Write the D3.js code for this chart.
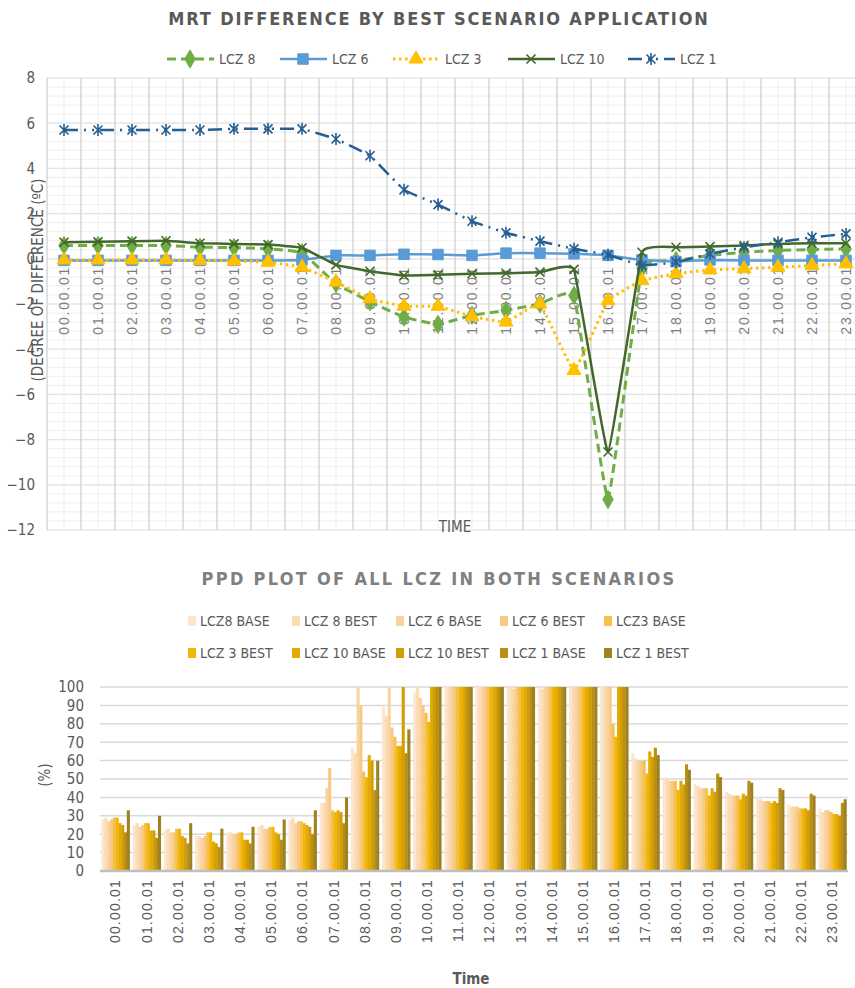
<!DOCTYPE html>
<html>
<head>
<meta charset="utf-8">
<script src="https://cdn.jsdelivr.net/npm/d3@7"></script>
<style>
  body { margin: 0; background: #fff; }
</style>
</head>
<body>
<div id="chart"></div>
<script>
var hours = ["00.00.01", "01.00.01", "02.00.01", "03.00.01", "04.00.01", "05.00.01", "06.00.01", "07.00.01",
  "08.00.01", "09.00.01", "10.00.01", "11.00.01", "12.00.01", "13.00.01", "14.00.01", "15.00.01",
  "16.00.01", "17.00.01", "18.00.01", "19.00.01", "20.00.01", "21.00.01", "22.00.01", "23.00.01"];

// MRT difference (best - base), degC
var mrtNames = ["LCZ 8", "LCZ 6", "LCZ 3", "LCZ 10", "LCZ 1"];
var lcz8 = [0.59, 0.59, 0.59, 0.59, 0.51, 0.5, 0.44, 0.27, -1.1, -1.9, -2.58, -2.9, -2.5, -2.28, -1.99, -1.62, -10.65, -0.42, -0.08, 0.15, 0.29, 0.37, 0.41, 0.44];
var lcz6 = [-0.07, -0.07, -0.07, -0.07, -0.07, -0.07, -0.07, -0.05, 0.15, 0.15, 0.2, 0.19, 0.15, 0.25, 0.25, 0.22, 0.15, -0.05, -0.12, -0.05, -0.07, -0.07, -0.07, -0.07];
var lcz3 = [-0.05, -0.05, -0.05, -0.05, -0.07, -0.1, -0.15, -0.37, -1.03, -1.77, -2.1, -2.1, -2.55, -2.8, -2.0, -4.94, -1.85, -0.96, -0.66, -0.49, -0.44, -0.37, -0.3, -0.22];
var lcz10 = [0.73, 0.75, 0.78, 0.8, 0.69, 0.66, 0.63, 0.49, -0.27, -0.55, -0.74, -0.71, -0.66, -0.64, -0.59, -0.47, -8.55, 0.29, 0.51, 0.54, 0.59, 0.66, 0.69, 0.69];
var lcz1 = [5.7, 5.7, 5.7, 5.7, 5.7, 5.75, 5.75, 5.75, 5.3, 4.56, 3.05, 2.4, 1.66, 1.15, 0.78, 0.44, 0.18, -0.3, -0.15, 0.22, 0.51, 0.73, 0.95, 1.1];
var mrtTicks = [-12, -10, -8, -6, -4, -2, 0, 2, 4, 6, 8];

// PPD (%), bars above 100 are cut by the axis
var ppdNames = ["LCZ8 BASE", "LCZ 8 BEST", "LCZ 6 BASE", "LCZ 6 BEST", "LCZ3 BASE",
  "LCZ 3 BEST", "LCZ 10 BASE", "LCZ 10 BEST", "LCZ 1 BASE", "LCZ 1 BEST"];
var lcz8Base = [28, 25, 22, 19, 21, 24, 28, 37, 67, 89, 97, 100, 100, 100, 100, 100, 100, 64, 51, 47, 43, 40, 36, 34];
var lcz8Best = [29, 26, 23, 19, 21, 25, 29, 37, 64, 84, 100, 100, 100, 100, 99, 100, 100, 61, 50, 46, 42, 39, 35, 32];
var lcz6Base = [27, 24, 21, 18, 20, 23, 26, 45, 100, 100, 94, 100, 100, 99, 100, 100, 100, 60, 49, 45, 41, 38, 35, 33];
var lcz6Best = [28, 25, 21, 19, 20, 23, 27, 56, 90, 78, 90, 100, 100, 100, 100, 100, 100, 60, 49, 45, 41, 38, 35, 33];
var lcz3Base = [29, 26, 23, 21, 21, 24, 27, 33, 54, 73, 86, 100, 100, 100, 100, 100, 80, 60, 49, 45, 41, 38, 34, 32];
var lcz3Best = [29, 26, 23, 21, 21, 24, 26, 32, 51, 68, 81, 100, 100, 100, 100, 100, 73, 53, 44, 41, 39, 37, 34, 31];
var lcz10Base = [26, 22, 19, 16, 17, 21, 25, 33, 63, 68, 100, 100, 100, 100, 100, 100, 100, 65, 49, 45, 42, 38, 34, 31];
var lcz10Best = [25, 22, 18, 15, 17, 20, 24, 32, 60, 100, 100, 100, 100, 100, 100, 100, 100, 62, 47, 43, 41, 37, 33, 30];
var lcz1Base = [21, 18, 15, 13, 15, 17, 20, 26, 44, 64, 100, 100, 100, 100, 100, 100, 100, 67, 58, 53, 49, 45, 42, 37];
var lcz1Best = [33, 30, 26, 23, 24, 28, 33, 40, 60, 77, 100, 100, 100, 100, 100, 100, 100, 63, 55, 51, 48, 44, 41, 39];
var ppdTicks = [0, 10, 20, 30, 40, 50, 60, 70, 80, 90, 100];

var narrow = "'DejaVu Sans Condensed', 'Liberation Sans Narrow', sans-serif";
var plain = "'Liberation Sans', Arial, sans-serif";
var textGray = "#595959";

var svg = d3.select("#chart").append("svg")
  .attr("width", 855)
  .attr("height", 988);

// ---------------- top chart ----------------
var mrtSeries = [
  { name: mrtNames[0], values: lcz8, color: "#70ad47", width: 3, dash: "9,5", marker: "diamond" },
  { name: mrtNames[1], values: lcz6, color: "#5b9bd5", width: 2.5, dash: null, marker: "square" },
  { name: mrtNames[2], values: lcz3, color: "#ffc000", width: 3, dash: "2.5,3.5", marker: "triangle" },
  { name: mrtNames[3], values: lcz10, color: "#43682b", width: 2.5, dash: null, marker: "x" },
  { name: mrtNames[4], values: lcz1, color: "#255e91", width: 2.5, dash: "14,6,2,6,2,6", marker: "star" }
];

var x = d3.scaleBand().domain(hours).range([47, 863]);
var y = d3.scaleLinear().domain([-12, 8]).range([530, 78]);
var bw = x.bandwidth();

var grid = svg.append("g");
d3.range(-12, 8.001, 0.4).forEach(function (v) {
  grid.append("line")
    .attr("x1", 47).attr("x2", 863)
    .attr("y1", y(v)).attr("y2", y(v))
    .attr("stroke", "#efefef").attr("stroke-width", 1);
});
mrtTicks.forEach(function (v) {
  grid.append("line")
    .attr("x1", 47).attr("x2", 863)
    .attr("y1", y(v)).attr("y2", y(v))
    .attr("stroke", "#e3e3e3").attr("stroke-width", 1.2);
});
hours.forEach(function (h) {
  grid.append("line")
    .attr("x1", x(h) + bw / 2).attr("x2", x(h) + bw / 2)
    .attr("y1", y(8)).attr("y2", y(-12))
    .attr("stroke", "#efefef").attr("stroke-width", 1);
  grid.append("line")
    .attr("x1", x(h)).attr("x2", x(h))
    .attr("y1", y(8)).attr("y2", y(-12))
    .attr("stroke", "#d6d6d6").attr("stroke-width", 1.5);
});

var yAxis = svg.append("g")
  .attr("transform", "translate(47,0)")
  .call(d3.axisLeft(y).tickValues(mrtTicks).tickSize(0).tickPadding(12));
yAxis.select(".domain").remove();
yAxis.selectAll("text")
  .attr("font-family", narrow).attr("font-size", "15px").attr("fill", textGray);

var xAxis = svg.append("g")
  .attr("transform", "translate(0," + y(0) + ")")
  .call(d3.axisBottom(x).tickSize(0));
xAxis.select(".domain").remove();
xAxis.selectAll("text")
  .attr("transform", "rotate(-90)")
  .attr("x", -7).attr("y", 0).attr("dy", "0.35em")
  .attr("text-anchor", "end")
  .attr("font-family", plain).attr("font-size", "14px")
  .attr("letter-spacing", "1.8px")
  .attr("fill", "#7f7f7f");

function markerPath(type) {
  if (type == "diamond") return d3.symbol(d3.symbolDiamond, 95)();
  if (type == "square") return d3.symbol(d3.symbolSquare, 110)();
  if (type == "triangle") return d3.symbol(d3.symbolTriangle, 85)();
  if (type == "x") return "M-4.5,-4.5L4.5,4.5M-4.5,4.5L4.5,-4.5";
  return "M-4.5,-4.5L4.5,4.5M-4.5,4.5L4.5,-4.5M0,-6L0,6";
}

function drawMarker(g, s, cx, cy) {
  var open = s.marker == "x" || s.marker == "star";
  g.append("path")
    .attr("d", markerPath(s.marker))
    .attr("transform", "translate(" + cx + "," + cy + ")")
    .attr("fill", open ? "none" : s.color)
    .attr("stroke", s.color)
    .attr("stroke-width", open ? 1.6 : 1);
}

// stiff cardinal spline: smooth bends, but keeps the sharp drop at 16.00
var line = d3.line()
  .x(function (d, i) { return x(hours[i]) + bw / 2; })
  .y(function (d) { return y(d); })
  .curve(d3.curveCardinal.tension(0.75));

var lines = svg.append("g");
mrtSeries.forEach(function (s) {
  var g = lines.append("g");
  g.append("path")
    .attr("d", line(s.values))
    .attr("fill", "none")
    .attr("stroke", s.color)
    .attr("stroke-width", s.width)
    .attr("stroke-dasharray", s.dash);
  s.values.forEach(function (v, i) {
    drawMarker(g, s, x(hours[i]) + bw / 2, y(v));
  });
});

svg.append("text")
  .attr("transform", "translate(43,280) rotate(-90)")
  .attr("text-anchor", "middle")
  .attr("font-family", narrow).attr("font-size", "15px").attr("fill", textGray)
  .text("(DEGREE OF DIFFERENCE (ºC)");

svg.append("text")
  .attr("x", 455).attr("y", 532)
  .attr("text-anchor", "middle")
  .attr("font-family", narrow).attr("font-size", "15px").attr("fill", textGray)
  .text("TIME");

svg.append("text")
  .attr("x", 439).attr("y", 25)
  .attr("text-anchor", "middle")
  .attr("font-family", narrow).attr("font-size", "18px").attr("font-weight", "bold")
  .attr("letter-spacing", "1.85px").attr("fill", textGray)
  .text("MRT DIFFERENCE BY BEST SCENARIO APPLICATION");

// legend of the top chart
var legStarts = [167, 280, 393, 508, 628];
mrtSeries.forEach(function (s, k) {
  var legX = legStarts[k];
  var g = svg.append("g");
  g.append("line")
    .attr("x1", legX).attr("x2", legX + 47)
    .attr("y1", 59).attr("y2", 59)
    .attr("stroke", s.color).attr("stroke-width", s.width)
    .attr("stroke-dasharray", s.dash);
  drawMarker(g, s, legX + 23, 59);
  g.append("text")
    .attr("x", legX + 52).attr("y", 64)
    .attr("font-family", narrow).attr("font-size", "14px").attr("fill", textGray)
    .text(s.name);
});

// ---------------- bottom chart ----------------
var ppdValues = [lcz8Base, lcz8Best, lcz6Base, lcz6Best, lcz3Base, lcz3Best, lcz10Base, lcz10Best, lcz1Base, lcz1Best];
var ppdColors = ["#fce6d0", "#fcdcb4", "#f9d3a0", "#f8c985", "#f7bf4c", "#f1b60a", "#e4aa02", "#d29e04", "#b98f14", "#9e8222"];

var xb = d3.scaleBand().domain(hours).range([100, 848]).paddingInner(0.1).paddingOuter(0.05);
var xi = d3.scaleBand().domain(d3.range(ppdNames.length)).range([0, xb.bandwidth()]);
var yb = d3.scaleLinear().domain([0, 100]).range([871, 687]);

var gridB = svg.append("g");
ppdTicks.slice(1).forEach(function (v) {
  gridB.append("line")
    .attr("x1", 100).attr("x2", 848)
    .attr("y1", yb(v)).attr("y2", yb(v))
    .attr("stroke", "#d9d9d9").attr("stroke-width", 1.5);
});

var bars = svg.append("g");
ppdValues.forEach(function (vals, k) {
  bars.selectAll(null)
    .data(vals)
    .enter().append("rect")
    .attr("x", function (d, i) { return xb(hours[i]) + xi(k); })
    .attr("y", function (d) { return yb(Math.min(d, 100)); })
    .attr("width", xi.bandwidth() + 0.3)
    .attr("height", function (d) { return yb(0) - yb(Math.min(d, 100)); })
    .attr("fill", ppdColors[k]);
});

svg.append("line")
  .attr("x1", 100).attr("x2", 848)
  .attr("y1", yb(0)).attr("y2", yb(0))
  .attr("stroke", "#bfbfbf").attr("stroke-width", 2.5);

var yAxisB = svg.append("g")
  .attr("transform", "translate(100,0)")
  .call(d3.axisLeft(yb).tickValues(ppdTicks).tickSize(0).tickPadding(16));
yAxisB.select(".domain").remove();
yAxisB.selectAll("text")
  .attr("font-family", narrow).attr("font-size", "15px").attr("fill", textGray);

var xAxisB = svg.append("g")
  .attr("transform", "translate(0," + yb(0) + ")")
  .call(d3.axisBottom(xb).tickSize(0));
xAxisB.select(".domain").remove();
xAxisB.selectAll("text")
  .attr("transform", "rotate(-90)")
  .attr("x", -8).attr("y", 0).attr("dy", "0.35em")
  .attr("text-anchor", "end")
  .attr("font-family", plain).attr("font-size", "14px")
  .attr("letter-spacing", "1.2px")
  .attr("fill", textGray);

svg.append("text")
  .attr("transform", "translate(50,775) rotate(-90)")
  .attr("text-anchor", "middle")
  .attr("font-family", narrow).attr("font-size", "15px").attr("fill", textGray)
  .text("(%)");

svg.append("text")
  .attr("x", 471).attr("y", 984)
  .attr("text-anchor", "middle")
  .attr("font-family", narrow).attr("font-size", "15px").attr("font-weight", "bold")
  .attr("fill", textGray)
  .text("Time");

svg.append("text")
  .attr("x", 439).attr("y", 585)
  .attr("text-anchor", "middle")
  .attr("font-family", narrow).attr("font-size", "18px").attr("font-weight", "bold")
  .attr("letter-spacing", "2.3px").attr("fill", "#808080")
  .text("PPD PLOT OF ALL LCZ IN BOTH SCENARIOS");

// legend of the bottom chart, two rows of five
var legCols = [188, 292, 396, 500, 604];
ppdNames.forEach(function (name, k) {
  var lx = legCols[k % 5];
  var ly = k < 5 ? 621 : 653;
  svg.append("rect")
    .attr("x", lx).attr("y", ly - 5)
    .attr("width", 8).attr("height", 10)
    .attr("fill", ppdColors[k]);
  svg.append("text")
    .attr("x", lx + 12).attr("y", ly + 5)
    .attr("font-family", narrow).attr("font-size", "14px").attr("fill", textGray)
    .text(name);
});
</script>
</body>
</html>
